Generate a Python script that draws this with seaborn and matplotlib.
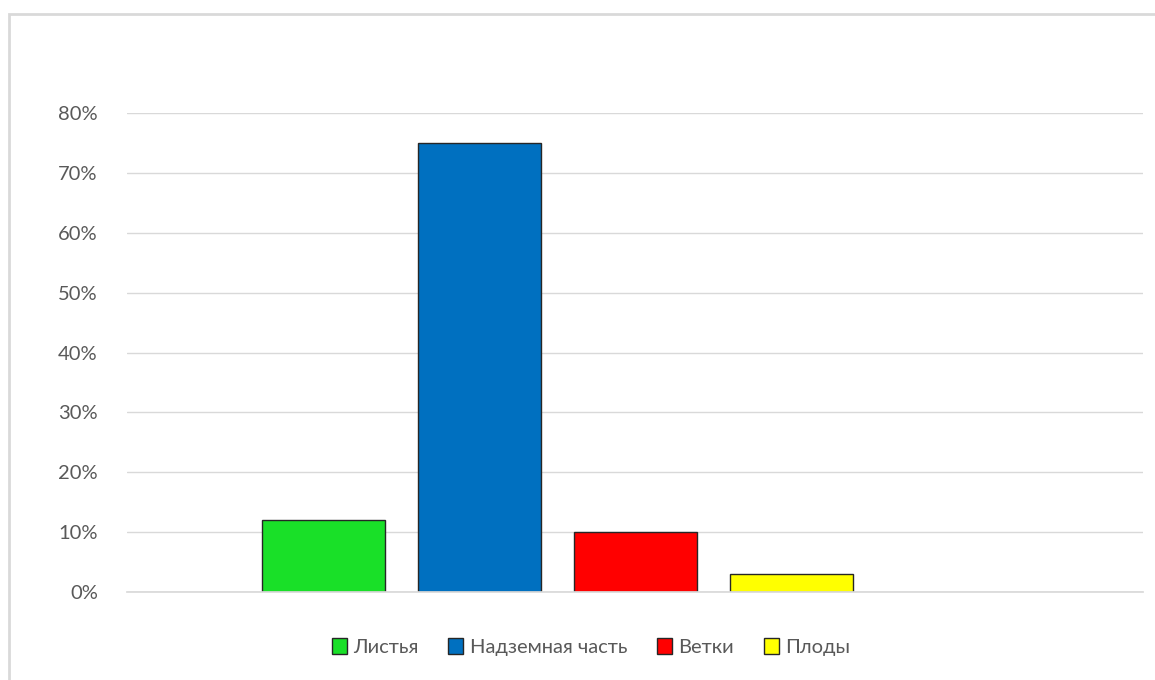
import matplotlib
matplotlib.use("Agg")
import matplotlib.pyplot as plt
from matplotlib.patches import Rectangle, Patch
from matplotlib.ticker import PercentFormatter
import seaborn as sns
import pandas as pd

# Данные
parts = ["Листья", "Надземная часть", "Ветки", "Плоды"]
shares = [0.12, 0.75, 0.10, 0.03]
colors = ["#19e028", "#0070c0", "#ff0000", "#ffff00"]

sns.set_theme(style="white")
plt.rcParams["font.family"] = ["Lato", "DejaVu Sans"]

df = pd.DataFrame({"part": parts, "share": shares})

fig = plt.figure(figsize=(11.55, 6.8), dpi=100)
ax = fig.add_axes([127 / 1155, 88 / 680, (1143 - 127) / 1155, (592 - 113) / 680])

sns.barplot(data=df, x="part", y="share", hue="part", palette=colors,
            saturation=1, width=0.79, edgecolor="#262626", linewidth=1,
            legend=False, ax=ax)

ax.set_ylim(0, 0.8)
ax.set_xlim(-1.26, 5.253)
ax.yaxis.set_major_formatter(PercentFormatter(1.0, decimals=0))
ax.set_yticks([i / 10 for i in range(9)])
ax.set_xticks([])
ax.set_xlabel("")
ax.set_ylabel("")
ax.grid(axis="y", color="#d9d9d9", linewidth=1)
ax.set_axisbelow(True)
for s in ["top", "right", "left"]:
    ax.spines[s].set_visible(False)
ax.spines["bottom"].set_color("#d9d9d9")
ax.tick_params(axis="y", length=0, pad=21, labelsize=14.5, labelcolor="#595959")

# рамка диаграммы
fig.add_artist(Rectangle((9 / 1155, -0.1), 1.2, 1 - 14 / 680 + 0.1,
                         transform=fig.transFigure, fill=False,
                         edgecolor="#d9d9d9", linewidth=2))

handles = [Patch(facecolor=c, edgecolor="#262626", linewidth=1) for c in colors]
fig.legend(handles, parts, loc="center", bbox_to_anchor=(591 / 1155, 1 - 647 / 680),
           ncol=4, frameon=False, fontsize=14.5, labelcolor="#595959",
           handlelength=0.75, handleheight=0.85, handletextpad=0.3, columnspacing=1.5)

fig.savefig("out.png", dpi=100, facecolor="white")
